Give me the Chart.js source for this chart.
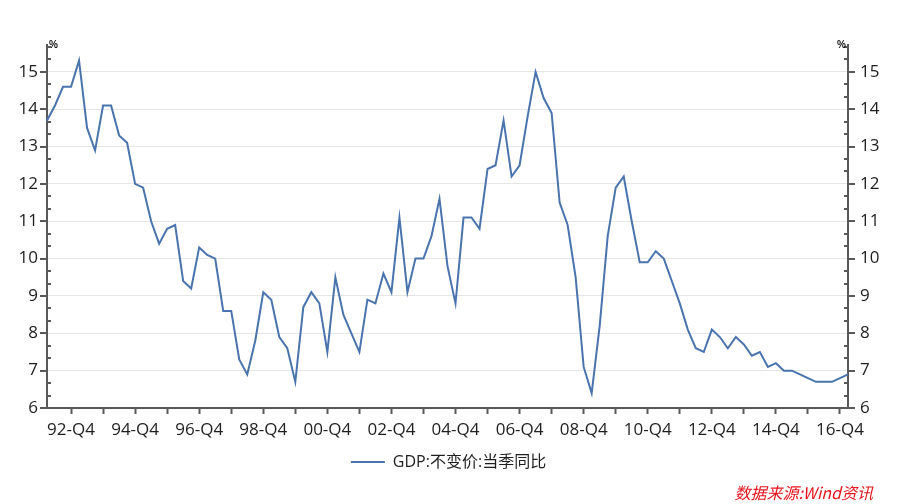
<!DOCTYPE html>
<html><head><meta charset="utf-8">
<script src="https://cdn.jsdelivr.net/npm/chart.js@4.4.1/dist/chart.umd.min.js"></script>
<style>
html,body{margin:0;padding:0;background:#fff;}
#wrap{position:relative;width:897px;height:504px;overflow:hidden;}
canvas{position:absolute;left:0;top:0;}
.pct{position:absolute;top:40px;font:bold 10px "Liberation Sans",sans-serif;line-height:10px;color:#111;}
#src{position:absolute;right:24px;top:484px;font:italic 16px "Noto Sans CJK SC",sans-serif;line-height:16px;color:#e8141c;white-space:nowrap;}
</style></head><body>
<div id="wrap">
<canvas id="c" width="897" height="504"></canvas>
<span class="pct" style="left:49px">%</span>
<span class="pct" style="left:837px">%</span>
<span id="src">数据来源:Wind资讯</span>
</div>
<script>
// ---- data ----
const quarters = [
 '92-Q1','92-Q2','92-Q3','92-Q4','93-Q1','93-Q2','93-Q3','93-Q4',
 '94-Q1','94-Q2','94-Q3','94-Q4','95-Q1','95-Q2','95-Q3','95-Q4',
 '96-Q1','96-Q2','96-Q3','96-Q4','97-Q1','97-Q2','97-Q3','97-Q4',
 '98-Q1','98-Q2','98-Q3','98-Q4','99-Q1','99-Q2','99-Q3','99-Q4',
 '00-Q1','00-Q2','00-Q3','00-Q4','01-Q1','01-Q2','01-Q3','01-Q4',
 '02-Q1','02-Q2','02-Q3','02-Q4','03-Q1','03-Q2','03-Q3','03-Q4',
 '04-Q1','04-Q2','04-Q3','04-Q4','05-Q1','05-Q2','05-Q3','05-Q4',
 '06-Q1','06-Q2','06-Q3','06-Q4','07-Q1','07-Q2','07-Q3','07-Q4',
 '08-Q1','08-Q2','08-Q3','08-Q4','09-Q1','09-Q2','09-Q3','09-Q4',
 '10-Q1','10-Q2','10-Q3','10-Q4','11-Q1','11-Q2','11-Q3','11-Q4',
 '12-Q1','12-Q2','12-Q3','12-Q4','13-Q1','13-Q2','13-Q3','13-Q4',
 '14-Q1','14-Q2','14-Q3','14-Q4','15-Q1','15-Q2','15-Q3','15-Q4',
 '16-Q1','16-Q2','16-Q3','16-Q4','17-Q1'
];
const gdpYoY = [
 13.7,14.1,14.6,14.6, 15.3,13.5,12.9,14.1,
 14.1,13.3,13.1,12.0, 11.9,11.0,10.4,10.8,
 10.9,9.4,9.2,10.3,   10.1,10.0,8.6,8.6,
 7.3,6.9,7.8,9.1,     8.9,7.9,7.6,6.7,
 8.7,9.1,8.8,7.5,     9.5,8.5,8.0,7.5,
 8.9,8.8,9.6,9.1,     11.1,9.1,10.0,10.0,
 10.6,11.6,9.8,8.8,   11.1,11.1,10.8,12.4,
 12.5,13.7,12.2,12.5, 13.8,15.0,14.3,13.9,
 11.5,10.9,9.5,7.1,   6.4,8.2,10.6,11.9,
 12.2,11.0,9.9,9.9,   10.2,10.0,9.4,8.8,
 8.1,7.6,7.5,8.1,     7.9,7.6,7.9,7.7,
 7.4,7.5,7.1,7.2,     7.0,7.0,6.9,6.8,
 6.7,6.7,6.7,6.8,     6.9
];
const yMin = 6, yMax = 15.72, yStep = 1;
const seriesLabel = 'GDP:不变价:当季同比';

// ---- style ----
const AXIS = '#595959';
const LINE = '#4a74ae';
const TXT = '#1e1e1e';
const TICKFONT = {family:'"Open Sans", "Noto Sans CJK SC", sans-serif', size:17};

const axisTicks = {
  id:'axisTicks',
  afterDraw(chart){
    const {ctx, chartArea:a} = chart;
    const s = chart.scales.y;
    ctx.save();
    ctx.strokeStyle = AXIS; ctx.lineWidth = 2;
    for (let k = 0; ; k++) {
      const v = s.min + k/3;
      if (v > s.max + 1e-9) break;
      const py = Math.round(s.getPixelForValue(v));
      ctx.beginPath();
      if (k % 3 === 0) {
        ctx.moveTo(a.left - 7, py); ctx.lineTo(a.left, py);
        ctx.moveTo(a.right, py); ctx.lineTo(a.right + 7, py);
      } else {
        ctx.moveTo(a.left, py); ctx.lineTo(a.left + 4, py);
        ctx.moveTo(a.right - 4, py); ctx.lineTo(a.right, py);
      }
      ctx.stroke();
    }
    ctx.restore();
  }
};

new Chart(document.getElementById('c'), {
  type:'line',
  data:{labels:quarters, datasets:[{
    label:seriesLabel, data:gdpYoY, borderColor:LINE, backgroundColor:LINE,
    borderWidth:2, pointRadius:0, tension:0, yAxisID:'y'
  }]},
  options:{
    responsive:false, animation:false, devicePixelRatio:1,
    layout:{padding:{top:45, bottom:24, left:0, right:0}},
    plugins:{
      legend:{position:'bottom', labels:{usePointStyle:true, pointStyle:'line', pointStyleWidth:34,
        font:{family:'"Open Sans", "Noto Sans CJK SC", sans-serif', size:16}, color:TXT, padding:10}},
      tooltip:{enabled:false}
    },
    scales:{
      x:{type:'category', offset:false,
        grid:{drawOnChartArea:false, drawTicks:true, tickLength:6, tickWidth:2,
          tickColor:(c)=> (c.index % 4 === 3) ? AXIS : 'rgba(0,0,0,0)'},
        border:{display:true, color:AXIS, width:2},
        ticks:{autoSkip:false, maxRotation:0, minRotation:0, padding:6, font:TICKFONT, color:TXT,
          callback:(v,i)=> (i % 8 === 3) ? quarters[i] : ''},
        afterFit:(s)=>{ s.height = 36; }
      },
      y:{position:'left', min:yMin, max:yMax,
        ticks:{stepSize:yStep, includeBounds:false, padding:9, font:TICKFONT, color:TXT},
        grid:{drawTicks:false, lineWidth:1, color:(c)=> (c.tick && c.tick.value === yMin) ? 'rgba(0,0,0,0)' : '#e6e6e6'},
        border:{display:true, color:AXIS, width:2},
        afterFit:(s)=>{ s.width = 47; }
      },
      y2:{position:'right', min:yMin, max:yMax,
        ticks:{stepSize:yStep, includeBounds:false, padding:12, font:TICKFONT, color:TXT},
        grid:{drawOnChartArea:false, drawTicks:false},
        border:{display:true, color:AXIS, width:2},
        afterFit:(s)=>{ s.width = 49; }
      }
    }
  },
  plugins:[axisTicks]
});
</script>
</body></html>
